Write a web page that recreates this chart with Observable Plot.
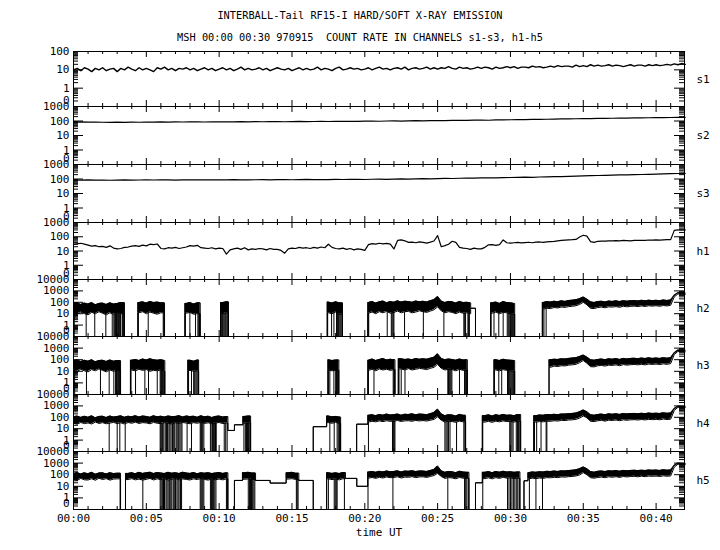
<!DOCTYPE html>
<html><head><meta charset="utf-8">
<script src="https://cdn.jsdelivr.net/npm/d3@7"></script>
<script src="https://cdn.jsdelivr.net/npm/@observablehq/plot@0.6"></script>
<style>
body{margin:0;background:#fff;}
#chart{position:relative;width:720px;height:550px;background:#fff;font-family:"DejaVu Sans Mono",monospace;color:#000;overflow:hidden;}
.ttl{position:absolute;left:0;width:720px;text-align:center;font-size:10.3px;white-space:pre;line-height:1;}
#chart svg{position:absolute;left:0;overflow:visible;}
</style></head><body>
<div id="chart">
<div class="ttl" style="top:10px">INTERBALL-Tail RF15-I HARD/SOFT X-RAY EMISSION</div>
<div class="ttl" style="top:32px">MSH 00:00 00:30 970915  COUNT RATE IN CHANNELS s1-s3, h1-h5</div>
</div>
<script>
// ---------------- data ----------------
const STEP = 0.25;   // minutes between samples of s1, h1..h5
const STEP2 = 0.5;   // minutes between samples of s2, s3
const X_MAX = 41.95; // minutes after 00:00 at right edge
const timeTicks = [0,5,10,15,20,25,30,35,40];
const channels = ["s1","s2","s3","h1","h2","h3","h4","h5"];
const yTicksS1 = [0,1,10,100];
const yTicksMid = [0,1,10,100,1000];
const yTicksH = [0,1,10,100,1000,10000];

const s1Counts = [
10,12,9,13, 11,8,12,10, 13,9,11,12, 8,12,10,14, 11,9,13,10,
12,10,8,13, 11,14,10,12, 9,12,11,13, 10,12,9,11, 13,10,12,9,
11,13,10,12, 9,11,14,10, 12,10,11,13, 10,12,9,11, 13,11,10,12,
9,11,13,10, 12,10,11,14, 10,12,11,9, 12,14,10,11, 13,11,12,10,
11,13,10,12, 14,11,12,10, 12,13,11,14, 10,12,13,11, 12,14,11,13,
11,13,12,15, 12,11,14,12, 13,11,12,14, 12,14,13,11, 14,12,13,15,
13,15,12,14, 14,13,16,14, 15,13,14,16, 14,17,15,16, 16,14,18,15,
17,15,19,16, 18,16,17,19, 16,18,17,15, 17,19,16,18, 18,16,19,17,
19,17,18,20, 18,21,19,22, 20];

const s2Counts = [
84,86,83,85,82,80,83,81,84,82,
85,83,86,84,87,85,86,88,85,87,
86,89,87,90,88,91,89,90,92,89,
91,93,90,92,94,92,95,93,96,94,
97,99,96,100,102,99,103,105,102,106,
108,105,110,112,109,114,116,113,118,120,
122,125,123,128,130,132,135,138,140,143,
146,148,150,153,155,158,160,163,165,168,
170,172,175,178,180];

const s3Counts = [
86,84,87,83,85,82,84,86,83,85,
87,85,88,86,84,87,89,86,88,87,
89,87,90,88,86,89,91,88,90,92,
89,91,93,90,92,91,94,92,93,95,
92,96,98,95,99,101,98,103,105,102,
107,110,108,113,116,114,119,121,118,124,
127,130,133,131,137,140,144,147,152,160,
166,170,175,180,185,190,195,200,205,210,
218,225,232,240,248];

const h1Counts = [
29,32,35,30, 26,22,24,20, 21,18,23,16, 14,15,18,19, 22,24,21,26,
23,30,28,31, 15,14,17,16, 18,15,17,19, 24,22,25,17, 16,15,17,14,
16,15,6,12, 14,16,13,17, 12,14,13,15, 14,12,15,13, 13,11,7,14,
16,15,18,16, 17,15,18,16, 19,17,30,18, 15,14,16,13, 15,12,14,13,
11,28,33,30, 35,32,34,30, 14,55,60,52, 40,42,38,44, 40,36,42,50,
120,20,24,30, 48,40,18,16, 15,13,16,14, 14,18,27,28, 25,28,60,38,
36,38,40,37, 39,41,38,42, 43,40,44,46, 48,52,55,58, 60,62,65,95,
128,110,45,40, 48,50,49,52, 51,53,52,55, 54,52,56,55, 57,56,59,58,
60,58,61,62, 63,280,300,310, 300];

// h2..h5: upper / lower edge of the noisy band (0 = no counts)
const h2Hi = [
75,90,65,85, 70,95,60,80, 85,65,90,70, 80,95,0,0, 0,0,95,110,
85,120,95,105, 90,0,0,0, 0,0,0,80, 95,70,90,0, 0,0,0,0,
0,95,110,0, 0,0,0,0, 0,0,0,0, 0,0,0,0, 0,0,0,0,
0,0,0,0, 0,0,0,0, 0,0,105,85, 110,90,0,0, 0,0,0,0,
0,95,120,85, 110,130,90,115, 100,135,105,125, 115,100,130,110, 125,105,140,170,
330,130,95,120, 110,85,120,95, 100,90,0,0, 0,0,0,90, 105,80,115,95,
90,80,0,0, 0,0,0,0, 0,95,115,105, 125,110,135,120, 145,155,170,210,
290,190,110,95, 115,125,105,130, 120,135,115,140, 125,140,145,130, 150,135,155,140,
150,140,160,145, 160,420,700,680, 650];
const h2Lo = [
12,9,14,10, 8,13,10,15, 11,8,12,9, 13,10,0,0, 0,0,12,15,
10,14,11,9, 12,0,0,0, 0,0,0,11, 13,9,10,0, 0,0,0,0,
0,10,12,0, 0,0,0,0, 0,0,0,0, 0,0,0,0, 0,0,0,0,
0,0,0,0, 0,0,0,0, 0,0,12,10, 14,9,0,0, 0,0,0,0,
0,11,14,10, 15,12,16,11, 13,17,12,15, 16,12,14,18, 15,13,17,22,
40,18,12,15, 13,10,14,11, 12,10,0,0, 0,0,0,11, 14,10,13,12,
10,9,0,0, 0,0,0,0, 0,25,30,28, 35,32,38,36, 42,45,50,65,
100,60,30,28, 35,38,33,40, 38,42,36,45, 40,44,46,42, 48,43,50,46,
50,45,52,48, 55,300,550,520, 500];
const h2Gaps = [[3.5,4.42,0],[6.25,7.65,0],[8.7,10.1,0],[10.64,17.42,0],[18.47,20.21,0],[27.27,27.6,30],[27.6,28.64,0],[30.29,32.19,0]];
const h2Drops = [0.05,0.87,1.46,2.22,2.66,2.77,2.83,2.89,2.95,3.0,3.05,3.1,3.15,3.23,3.34,3.38,3.42,3.46,4.45,5.13,6.16,6.2,7.68,7.99,8.38,8.54,8.6,8.65,
10.12,10.18,10.22,10.28,10.35,10.42,10.48,10.55,10.6,17.45,17.72,17.88,18.06,18.12,18.2,18.28,18.35,18.42,20.23,20.27,21.54,21.82,21.88,21.95,22.0,22.73,24.02,25.43,
26.8,26.86,26.92,27.08,27.13,27.18,28.67,28.87,29.2,29.5,29.78,29.85,29.92,30.0,30.08,30.15,30.22,32.22,32.3,32.45];

const h3Hi = [
80,95,70,90, 75,100,65,85, 90,70,95,75, 85,0,0,0, 90,105,85,115,
95,120,100,90, 100,85,0,0, 0,0,0,0, 90,75,95,0, 0,0,0,0,
0,0,0,0, 0,0,0,0, 0,0,0,0, 0,0,0,0, 0,0,0,0,
0,0,0,0, 0,0,0,0, 0,0,100,85, 95,0,0,0, 0,0,0,0,
0,90,115,85, 105,125,95,110, 100,0,120,105, 115,100,125,110, 120,110,135,165,
320,130,100,115, 105,90,115,95, 100,0,0,0, 0,0,0,0, 100,85,110,95,
90,85,0,0, 0,0,0,0, 0,0,0,100, 110,105,120,115, 130,140,150,190,
250,170,100,90, 105,115,100,120, 110,125,105,130, 115,130,135,120, 140,125,145,130,
140,130,150,135, 150,400,680,660, 640];
const h3Lo = [
12,10,15,11, 9,14,11,16, 12,9,13,10, 12,0,0,0, 13,11,15,12,
14,10,12,11, 13,10,0,0, 0,0,0,0, 12,10,11,0, 0,0,0,0,
0,0,0,0, 0,0,0,0, 0,0,0,0, 0,0,0,0, 0,0,0,0,
0,0,0,0, 0,0,0,0, 0,0,13,11, 12,0,0,0, 0,0,0,0,
0,12,15,11, 16,13,15,12, 14,0,16,13, 17,13,15,18, 16,14,18,22,
40,18,13,15, 14,11,15,12, 13,0,0,0, 0,0,0,0, 13,11,14,12,
11,10,0,0, 0,0,0,0, 0,0,0,22, 28,26,30,29, 34,36,40,55,
85,50,25,24, 30,32,28,34, 32,36,30,38, 34,37,39,36, 40,36,42,39,
42,38,44,40, 46,280,520,500, 480];
const h3Gaps = [[3.23,3.91,0],[6.27,7.85,0],[8.59,17.47,0],[18.22,20.21,0],[22.07,22.3,0],[27.04,28.87,0],[30.29,32.65,0]];
const h3Drops = [0.08,0.89,1.85,2.45,2.77,2.89,2.95,3.0,3.05,3.1,3.15,3.2,3.95,4.26,4.9,5.15,5.75,5.95,6.0,6.05,6.1,6.15,6.2,6.25,7.9,8.1,8.25,8.32,8.4,8.47,8.54,
17.5,17.6,17.88,18.0,18.06,18.12,18.18,20.25,20.63,21.95,22.0,22.05,22.35,22.5,22.76,25.7,25.75,25.8,25.86,25.92,25.98,26.5,26.85,26.9,26.96,27.0,
28.9,29.2,29.4,29.8,29.86,29.92,29.98,30.04,30.1,30.16,30.22,30.27];

const h4Hi = [
110,130,95,125, 100,135,90,120, 125,95,130,105, 115,135,100,125, 110,140,105,130,
120,100,135,110, 125,105,130,115, 120,140,105,130, 115,125,100,135, 110,125,95,120,
130,105,115,0, 0,0,0,120, 130,0,0,0, 0,0,0,0, 0,0,0,0,
0,0,0,0, 0,0,0,0, 0,0,130,110, 120,105,0,0, 0,0,0,0,
0,150,170,140, 175,155,190,160, 170,195,150,185, 175,200,165,190, 185,170,210,260,
520,200,140,170, 160,130,180,150, 0,0,0,0, 0,140,165,130, 170,145,180,150,
160,140,175,0, 0,0,0,140, 160,150,175,165, 185,170,195,190, 210,220,240,300,
440,310,170,150, 175,190,165,200, 185,205,180,215, 195,215,220,205, 225,210,235,220,
230,215,245,225, 240,600,950,920, 900];
const h4Lo = [
30,25,35,28, 32,26,38,29, 34,27,31,36, 28,33,26,35, 30,37,29,34,
32,27,36,30, 28,34,30,26, 33,29,35,31, 27,34,30,36, 29,33,27,32,
35,28,31,0, 0,0,0,30, 32,0,0,0, 0,0,0,0, 0,0,0,0,
0,0,0,0, 0,0,0,0, 0,0,34,30, 36,29,0,0, 0,0,0,0,
0,38,45,40, 48,42,50,44, 46,52,43,49, 50,45,53,48, 52,47,55,65,
110,55,38,45, 42,36,46,40, 0,0,0,0, 0,38,44,36, 46,40,48,42,
44,38,46,0, 0,0,0,38, 42,40,46,44, 50,47,54,52, 58,60,66,85,
130,90,45,42, 50,54,46,56, 52,58,50,60, 55,60,62,58, 64,59,66,62,
66,61,70,64, 68,400,750,720, 700];
const h4Gaps = [[10.6,11.05,7],[11.05,11.63,22],[12.16,16.46,0],[16.46,17.38,15],[18.34,19.44,0],[19.44,20.21,25],[26.92,28.07,0],[30.7,31.6,0]];
const h4Drops = [2.45,3.0,3.18,3.55,5.95,6.0,6.06,6.12,6.2,6.3,6.38,6.45,6.55,6.62,6.7,6.8,6.88,6.95,7.05,7.12,7.2,7.3,7.38,7.45,7.8,8.1,8.7,8.75,8.8,8.87,8.95,
9.4,9.5,9.55,9.6,9.65,9.7,9.75,9.8,10.35,10.45,10.55,11.7,11.8,11.88,11.95,12.02,12.1,17.6,17.9,18.1,18.18,18.26,18.32,20.25,21.9,21.96,22.02,22.07,
25.5,25.58,25.66,25.75,25.85,26.3,26.8,26.87,28.1,29.95,30.02,30.1,30.18,30.4,30.48,30.56,30.64,31.65,31.8,32.1,32.45,32.5];

const h5Hi = [
130,155,115,145, 120,160,110,140, 145,115,150,125, 135,0,0,130, 150,120,160,130,
145,165,125,155, 140,125,160,135, 150,125,165,140, 130,155,120,145, 135,150,125,140,
155,130,145,0, 0,0,0,150, 160,140,0,0, 0,0,0,0, 0,0,0,145,
160,135,0,0, 0,0,0,0, 0,0,150,130, 145,125,155,0, 0,0,0,0,
0,170,190,160, 195,175,210,180, 190,215,170,205, 195,220,185,210, 205,190,230,280,
560,220,160,190, 180,150,200,170, 160,0,0,0, 0,160,185,150, 190,165,200,170,
180,160,175,0, 0,150,175,160, 180,170,195,185, 205,190,215,210, 230,240,265,330,
470,330,185,165, 195,210,185,220, 205,225,200,235, 215,235,240,225, 245,230,255,240,
250,235,265,245, 260,650,1000,960, 940];
const h5Lo = [
40,32,48,36, 35,45,33,50, 38,46,34,42, 44,0,0,38, 46,36,42,34,
40,48,35,44, 37,45,34,41, 46,36,43,39, 35,44,38,47, 39,34,45,37,
42,36,44,0, 0,0,0,40, 44,38,0,0, 0,0,0,0, 0,0,0,42,
46,38,0,0, 0,0,0,0, 0,0,44,38, 42,36,45,0, 0,0,0,0,
0,50,58,48, 60,52,64,55, 58,66,52,62, 60,68,56,64, 66,58,70,85,
130,70,48,56, 52,44,58,50, 48,0,0,0, 0,46,54,44, 56,48,60,50,
54,46,50,0, 0,44,50,46, 52,48,56,54, 60,56,64,62, 68,70,78,95,
150,100,55,50, 58,62,55,66, 60,68,58,70, 64,70,72,66, 74,68,76,72,
76,70,80,74, 78,450,800,760, 740];
const h5Gaps = [[3.23,3.57,0],[10.6,11.05,0],[11.05,11.6,32],[12.5,13.5,32],[13.5,14.6,19],[15.47,16.46,32],[16.46,17.38,0],[18.67,19.45,48],[19.45,20.2,10],[27.15,27.6,0],[27.6,28.07,20],[30.65,30.93,0],[30.93,31.2,30]];
const h5Drops = [3.2,4.76,5.95,6.02,6.1,6.18,6.25,6.35,6.42,6.5,6.6,6.68,6.75,6.85,6.92,7.0,7.1,7.18,7.25,7.35,7.42,8.7,8.76,8.82,8.88,8.95,9.4,9.48,9.55,9.62,9.7,9.78,
10.5,10.56,12.0,12.08,12.15,12.22,12.3,12.38,12.45,15.3,15.36,15.42,17.5,17.9,17.97,18.04,18.1,18.6,20.22,21.93,25.7,26.85,26.9,27.0,27.1,28.1,
29.8,29.9,30.0,30.1,30.2,30.3,30.4,30.5,30.6,31.3,31.75,32.2];

// ---------------- helpers ----------------
const ZERO = 0.1;                 // a count of 0 is drawn at the bottom of the log axis
const yv = v => Math.max(v, ZERO);
const W = 720, ML = 73, MR = 36, PW = W - ML - MR;
const EDGES = [51,106,164,222,279,336,394,451,509];
const chart = document.getElementById("chart");

function lineSeries(values, step) { return values.map((v, i) => ({t: i * step, v})); }

function bandSeries(lo, hi, gaps, step) {
  const n = lo.length, lastT = (n - 1) * step, eps = 1e-6;
  const inGap = t => gaps.some(g => t >= g[0] - eps && t <= g[1] + eps);
  const valid = i => i >= 0 && i < n && lo[i] > 0 && !inGap(i * step);
  const prevIdx = t => { let i = Math.ceil(t / step - eps) - 1; while (i >= 0 && !valid(i)) i--; return i; };
  const nextIdx = t => { let i = Math.ceil(t / step - eps); while (i < n && !valid(i)) i++; return i; };
  const pts = [];
  for (let i = 0; i < n; i++) if (valid(i)) pts.push({t: i * step, lo: lo[i], hi: hi[i], o: 0});
  gaps.forEach(([s, e, lev]) => {
    const adjPrev = gaps.some(g => Math.abs(g[1] - s) < eps);
    const adjNext = gaps.some(g => Math.abs(g[0] - e) < eps);
    if (!adjPrev && s > 0) { const i = prevIdx(s); if (i >= 0) pts.push({t: s, lo: lo[i], hi: hi[i], o: 3}); }
    pts.push({t: s, lo: lev, hi: lev, o: 4});
    pts.push({t: e, lo: lev, hi: lev, o: 1});
    if (!adjNext && e < lastT) { const i = nextIdx(e); if (i < n) pts.push({t: e, lo: lo[i], hi: hi[i], o: 2}); }
  });
  pts.sort((a, b) => a.t - b.t || a.o - b.o);
  const loAt = t => {
    const c = Math.round(t / step);
    for (let d = 0; d < n; d++) { if (valid(c - d)) return lo[c - d]; if (valid(c + d)) return lo[c + d]; }
    return ZERO;
  };
  return {pts, loAt};
}

function bandMarks(lo, hi, gaps, drops) {
  const {pts, loAt} = bandSeries(lo, hi, gaps, STEP);
  return [
    Plot.areaY(pts, {x: "t", y1: d => yv(d.lo), y2: d => yv(d.hi), fill: "black"}),
    Plot.line(pts, {x: "t", y: d => yv(d.hi), stroke: "black", strokeWidth: 1}),
    Plot.line(pts, {x: "t", y: d => yv(d.lo), stroke: "black", strokeWidth: 1}),
    Plot.ruleX(drops, {x: d => d, y1: () => ZERO, y2: d => loAt(d), stroke: "black", strokeWidth: 1})
  ];
}

function lineMarks(values, step, sw) {
  return [Plot.line(lineSeries(values, step), {x: "t", y: d => yv(d.v), stroke: "black", strokeWidth: sw})];
}

const fmtTime = d => "00:" + String(d).padStart(2, "0");

function makePanel(i, yTicks, dataMarks) {
  const top = EDGES[i], bottom = EDGES[i + 1], ph = bottom - top;
  const last = i === channels.length - 1;
  const mt = 14, mb = last ? 44 : 14;
  const yMax = yTicks[yTicks.length - 1];
  const majors = yTicks.map(yv);
  const minor = [];
  for (let d = ZERO; d < yMax / 1.001; d *= 10) for (let k = 2; k <= 9; k++) minor.push(d * k);
  const xMinor = d3.range(0, X_MAX).filter(d => d % 5 !== 0);
  const marks = [
    ...dataMarks,
    Plot.frame({stroke: "black"}),
    Plot.tickX(timeTicks, {x: d => d, insetTop: ph - 6, stroke: "black"}),
    Plot.tickX(timeTicks, {x: d => d, insetBottom: ph - 6, stroke: "black"}),
    Plot.tickX(xMinor, {x: d => d, insetTop: ph - 3, stroke: "black"}),
    Plot.tickX(xMinor, {x: d => d, insetBottom: ph - 3, stroke: "black"}),
    Plot.tickY(majors, {y: d => d, insetRight: PW - 10, stroke: "black"}),
    Plot.tickY(majors, {y: d => d, insetLeft: PW - 10, stroke: "black"}),
    Plot.tickY(minor, {y: d => d, insetRight: PW - 5, stroke: "black"}),
    Plot.tickY(minor, {y: d => d, insetLeft: PW - 5, stroke: "black"}),
    Plot.text(yTicks.filter(v => v > 0), {y: d => d, text: d => String(d), frameAnchor: "left", textAnchor: "end", dx: -4, fill: "black"}),
    Plot.text([0], {y: () => ZERO, text: () => "0", frameAnchor: "left", textAnchor: "end", dx: -4, dy: -6, fill: "black"}),
    Plot.text([channels[i]], {text: d => d, frameAnchor: "right", textAnchor: "start", dx: 12, fill: "black"})
  ];
  if (last) {
    marks.push(Plot.text(timeTicks, {x: d => d, text: fmtTime, frameAnchor: "bottom", dy: 12, fill: "black"}));
    marks.push(Plot.text(["time UT"], {text: d => d, frameAnchor: "bottom", dy: 26, fill: "black"}));
  }
  const svg = Plot.plot({
    width: W, height: ph + mt + mb,
    marginLeft: ML, marginRight: MR, marginTop: mt, marginBottom: mb,
    x: {domain: [0, X_MAX], axis: null},
    y: {type: "log", domain: [ZERO, yMax], axis: null},
    style: {fontFamily: "'DejaVu Sans Mono', monospace", fontSize: "11px", background: "transparent", overflow: "visible", color: "black"},
    marks
  });
  svg.style.top = (top - mt) + "px";
  chart.appendChild(svg);
}

makePanel(0, yTicksS1, lineMarks(s1Counts, STEP, 1.4));
makePanel(1, yTicksMid, lineMarks(s2Counts, STEP2, 1.2));
makePanel(2, yTicksMid, lineMarks(s3Counts, STEP2, 1.2));
makePanel(3, yTicksMid, lineMarks(h1Counts, STEP, 1.2));
makePanel(4, yTicksH, bandMarks(h2Lo, h2Hi, h2Gaps, h2Drops));
makePanel(5, yTicksH, bandMarks(h3Lo, h3Hi, h3Gaps, h3Drops));
makePanel(6, yTicksH, bandMarks(h4Lo, h4Hi, h4Gaps, h4Drops));
makePanel(7, yTicksH, bandMarks(h5Lo, h5Hi, h5Gaps, h5Drops));
</script>
</body></html>
